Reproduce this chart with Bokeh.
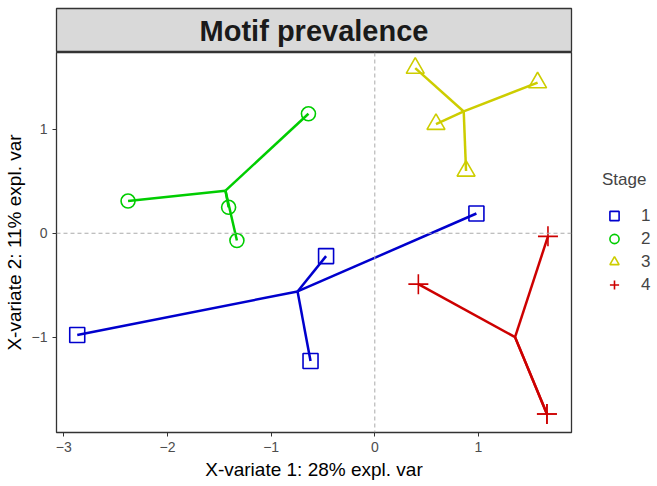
import numpy as np
from bokeh.plotting import figure
from bokeh.layouts import column, row
from bokeh.models import Legend, LegendItem, FixedTicker, Span, Range1d
from bokeh.core.properties import value
from bokeh.embed import file_html
from bokeh.resources import INLINE

# ---- data ----
stages = ["1", "2", "3", "4"]
stage1_x = [-2.87, -0.47, -0.62, 0.98]
stage1_y = [-0.98, -0.22, -1.23, 0.19]
stage2_x = [-2.38, -0.64, -1.41, -1.33]
stage2_y = [0.31, 1.15, 0.25, -0.07]
stage3_x = [0.39, 1.57, 0.59, 0.88]
stage3_y = [1.59, 1.45, 1.05, 0.60]
stage4_x = [1.67, 0.42, 1.66, 1.66]
stage4_y = [-0.03, -0.49, -1.74, -1.74]
x_ticks = [-3, -2, -1, 0, 1]
y_ticks = [-1, 0, 1]
title_text = "Motif prevalence"
x_label = "X-variate 1: 28% expl. var"
y_label = "X-variate 2: 11% expl. var"

colors = ["#0000CD", "#00CD00", "#CDCD00", "#CD0000"]
markers = ["square", "circle", "triangle", "cross"]
sizes = [15, 14, 18, 20]
xs_all = [stage1_x, stage2_x, stage3_x, stage4_x]
ys_all = [stage1_y, stage2_y, stage3_y, stage4_y]

FONT = "Liberation Sans"
W = 641
ML = 56
FRAME_W = 515
PW = ML + FRAME_W + 2
LW = 655 - PW
H = 430

# ---- strip ----
strip = figure(width=W, height=52, output_backend="svg", toolbar_location=None,
               x_range=Range1d(0, 1), y_range=Range1d(0, 1),
               min_border_left=ML, min_border_right=W - ML - FRAME_W,
               min_border_top=8, min_border_bottom=0)
strip.axis.visible = False
strip.grid.visible = False
strip.background_fill_color = "#D9D9D9"
strip.outline_line_color = "#333333"
strip.outline_line_width = 1.3
strip.text(x=[0.5], y=[0.5], text=[title_text], text_align="center", text_baseline="middle",
           text_font=value(FONT), text_font_style="bold", text_font_size="29px", text_color="#1A1A1A")

# ---- main ----
p = figure(width=PW, height=H, output_backend="svg", toolbar_location=None,
           x_range=Range1d(-3.07, 1.897), y_range=Range1d(-1.918, 1.74),
           min_border_left=ML, min_border_right=2, min_border_top=0, min_border_bottom=50)
p.grid.visible = False
p.outline_line_color = "#333333"
p.outline_line_width = 1.3

p.add_layout(Span(location=0, dimension="width", line_color="#AAAAAA", line_dash="4 3", line_width=1))
p.add_layout(Span(location=0, dimension="height", line_color="#AAAAAA", line_dash="4 3", line_width=1))

# legend panel (separate figure so the legend is not clipped);
# its ranges lie far from the data so only the legend keys show
lf = figure(width=LW, height=H, output_backend="svg", toolbar_location=None,
            x_range=Range1d(100, 101), y_range=Range1d(100, 101),
            min_border_left=0, min_border_right=0, min_border_top=0, min_border_bottom=0)
lf.axis.visible = False
lf.grid.visible = False
lf.outline_line_color = None

items = []
for st, xs, ys, c, m, s in zip(stages, xs_all, ys_all, colors, markers, sizes):
    cx, cy = float(np.mean(xs)), float(np.mean(ys))
    p.segment(x0=[cx] * len(xs), y0=[cy] * len(ys), x1=xs, y1=ys, line_color=c, line_width=2.5)
    p.scatter(x=xs, y=ys, marker=m, size=s, fill_color=None, line_color=c, line_width=1.6)
    lr = lf.scatter(x=xs, y=ys, marker=m, size=s - 1, fill_color=None, line_color=c, line_width=1.6)
    items.append(LegendItem(label=st, renderers=[lr]))

for ax in (p.xaxis[0], p.yaxis[0]):
    ax.axis_line_color = None
    ax.major_tick_line_color = "#333333"
    ax.major_tick_out = 4
    ax.major_tick_in = 0
    ax.minor_tick_line_color = None
    ax.major_label_text_color = "#4D4D4D"
    ax.major_label_text_font = FONT
    ax.major_label_text_font_size = "14px"
    ax.axis_label_text_font = FONT
    ax.axis_label_text_font_size = "19px"
    ax.axis_label_text_font_style = "normal"
    ax.axis_label_text_color = "#000000"
p.xaxis[0].ticker = FixedTicker(ticks=x_ticks)
p.yaxis[0].ticker = FixedTicker(ticks=y_ticks)
p.xaxis[0].axis_label = x_label
p.yaxis[0].axis_label = y_label
p.xaxis[0].major_label_standoff = 5
p.yaxis[0].major_label_standoff = 5
p.xaxis[0].axis_label_standoff = 4
p.yaxis[0].axis_label_standoff = 4

legend = Legend(items=items, location=(29, 136), title="Stage",
                title_text_font=FONT, title_text_font_size="17px", title_text_font_style="normal",
                title_standoff=14,
                label_text_font=FONT, label_text_font_size="17px",
                glyph_width=24, glyph_height=23, label_height=23, spacing=0, padding=0, margin=0,
                label_standoff=15, border_line_color=None, background_fill_color=None)
lf.add_layout(legend, "center")

layout = column(strip, row(p, lf, spacing=0), spacing=0)
open("out.html", "w").write(file_html(layout, INLINE))
